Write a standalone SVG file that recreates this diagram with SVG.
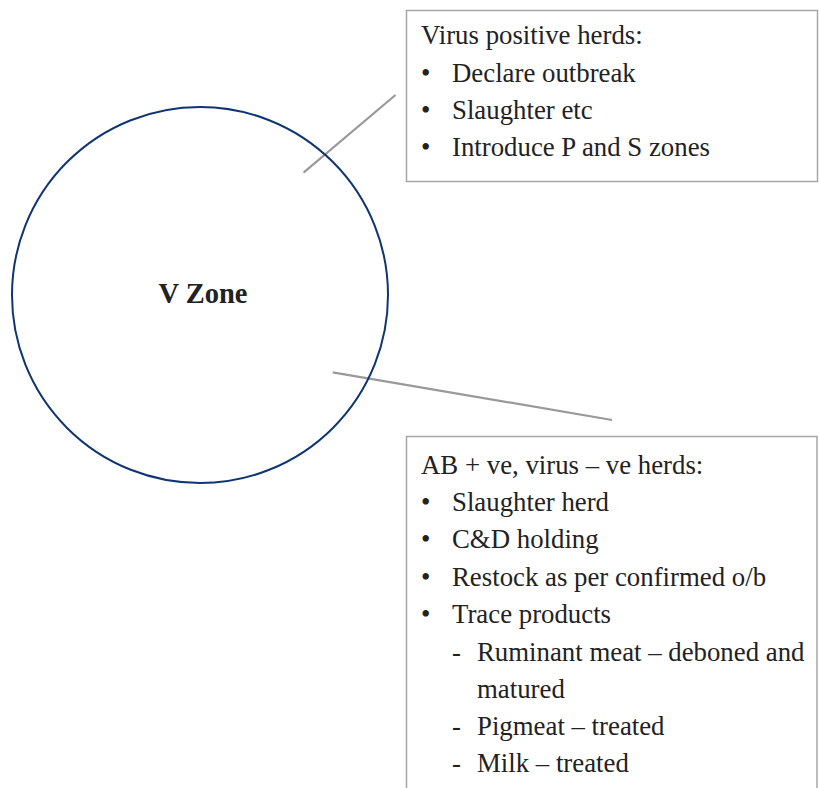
<svg xmlns="http://www.w3.org/2000/svg" width="819" height="788" viewBox="0 0 819 788">
  <style>
    .txt { font-family: "Liberation Serif", "Times New Roman", serif; font-size: 26.8px; fill: #222; }
    .box { fill: #fff; stroke: #a6a6a6; stroke-width: 1.5; }
    .lead { stroke: #999; stroke-width: 2.2; fill: none; }
  </style>
  <rect width="819" height="788" fill="#fff"/>

  <g id="connectors">
    <line class="lead" x1="303.5" y1="172.7" x2="395.5" y2="95"/>
    <line class="lead" x1="332.7" y1="372.3" x2="612" y2="420"/>
  </g>

  <g id="v-zone">
    <circle cx="200" cy="295" r="188" fill="none" stroke="#0f3574" stroke-width="2"/>
    <text x="203" y="302.5" text-anchor="middle" font-family="Liberation Serif, Times New Roman, serif" font-size="28.5" font-weight="bold" fill="#222">V Zone</text>
  </g>

  <g id="virus-positive">
    <rect class="box" x="406.5" y="10.5" width="411" height="171"/>
    <text class="txt" x="421" y="43.5">Virus positive herds:</text>
    <text class="txt" x="421" y="81.5">•</text><text class="txt" x="452" y="81.5">Declare outbreak</text>
    <text class="txt" x="421" y="118.5">•</text><text class="txt" x="452" y="118.5">Slaughter etc</text>
    <text class="txt" x="421" y="155.5">•</text><text class="txt" x="452" y="155.5">Introduce P and S zones</text>
  </g>

  <g id="ab-positive">
    <path class="box" d="M406.5,790 V436.5 H817 V790"/>
    <text class="txt" x="421" y="473.5">AB + ve, virus – ve herds:</text>
    <text class="txt" x="421" y="510.5">•</text><text class="txt" x="452" y="510.5">Slaughter herd</text>
    <text class="txt" x="421" y="548">•</text><text class="txt" x="452" y="548">C&amp;D holding</text>
    <text class="txt" x="421" y="585.5">•</text><text class="txt" x="452" y="585.5">Restock as per confirmed o/b</text>
    <text class="txt" x="421" y="623">•</text><text class="txt" x="452" y="623">Trace products</text>
    <text class="txt" x="452" y="660.5">-</text><text class="txt" x="477" y="660.5">Ruminant meat – deboned and</text>
    <text class="txt" x="477" y="697.5">matured</text>
    <text class="txt" x="452" y="735">-</text><text class="txt" x="477" y="735">Pigmeat – treated</text>
    <text class="txt" x="452" y="772">-</text><text class="txt" x="477" y="772">Milk – treated</text>
  </g>
</svg>
